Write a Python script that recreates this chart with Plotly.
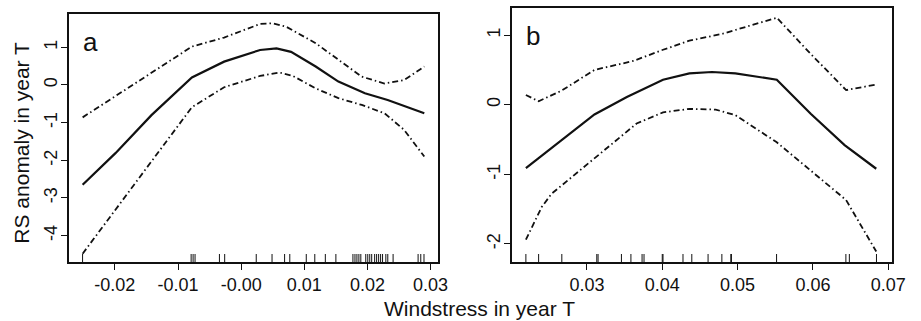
import plotly.graph_objects as go

# ---------------- data ----------------
# Panel a
a_fit_x = [-0.0251, -0.0199, -0.0142, -0.0078, -0.0027, 0.0001, 0.0030, 0.0056, 0.0079, 0.0118, 0.0154, 0.0196, 0.0232, 0.0290]
a_fit_y = [-2.65, -1.81, -0.80, 0.20, 0.62, 0.77, 0.93, 0.97, 0.88, 0.49, 0.09, -0.22, -0.40, -0.75]
a_up_x = [-0.0251, -0.0078, -0.0027, 0.0030, 0.0050, 0.0071, 0.0118, 0.0154, 0.0191, 0.0227, 0.0258, 0.0290]
a_up_y = [-0.86, 1.02, 1.26, 1.62, 1.64, 1.55, 1.11, 0.66, 0.22, 0.04, 0.13, 0.49]
a_lo_x = [-0.0251, -0.0078, -0.0027, 0.0030, 0.0061, 0.0082, 0.0118, 0.0154, 0.0191, 0.0227, 0.0258, 0.0290]
a_lo_y = [-4.48, -0.59, -0.06, 0.24, 0.33, 0.24, -0.09, -0.35, -0.53, -0.75, -1.19, -1.90]
a_rug = [-0.02511, -0.00792, -0.00761, -0.00730, -0.00344, -0.00261, 0.00239, 0.00489,
         0.00688, 0.00770, 0.01031, 0.01166, 0.01333, 0.01500, 0.01770, 0.01802, 0.01833,
         0.01864, 0.01895, 0.01973, 0.02005, 0.02036, 0.02067, 0.02114, 0.02145, 0.02177,
         0.02208, 0.02239, 0.02291, 0.02322, 0.02406, 0.02802, 0.02844, 0.02895]
a_xticks = [-0.02, -0.01, 0.0, 0.01, 0.02, 0.03]
a_xticktext = ["-0.02", "-0.01", "-0.00", "0.01", "0.02", "0.03"]
a_yticks = [-4, -3, -2, -1, 0, 1]
a_yticktext = ["-4", "-3", "-2", "-1", "0", "1"]
a_xrange = [-0.02727, 0.03116]
a_yrange = [-4.70, 1.885]

# Panel b
b_fit_x = [0.0219, 0.0266, 0.0310, 0.0353, 0.0401, 0.0436, 0.0466, 0.0497, 0.0552, 0.0597, 0.0642, 0.0684]
b_fit_y = [-0.91, -0.51, -0.14, 0.11, 0.36, 0.45, 0.47, 0.45, 0.36, -0.13, -0.58, -0.92]
b_up_x = [0.0219, 0.0236, 0.0266, 0.0310, 0.0362, 0.0401, 0.0436, 0.0480, 0.0552, 0.0597, 0.0644, 0.0684]
b_up_y = [0.14, 0.05, 0.20, 0.50, 0.63, 0.79, 0.92, 1.02, 1.25, 0.73, 0.21, 0.29]
b_lo_x = [0.0219, 0.0240, 0.0253, 0.0310, 0.0366, 0.0401, 0.0436, 0.0471, 0.0497, 0.0552, 0.0597, 0.0644, 0.0684]
b_lo_y = [-1.94, -1.47, -1.28, -0.77, -0.27, -0.11, -0.06, -0.07, -0.15, -0.54, -0.94, -1.37, -2.11]
b_rug = [0.02190, 0.02359, 0.02667, 0.03131, 0.03148, 0.03458, 0.03584, 0.03732, 0.03758,
         0.04000, 0.04010, 0.04275, 0.04392, 0.04608, 0.04791, 0.04910, 0.04918, 0.05517,
         0.06437, 0.06483, 0.06843]
b_xticks = [0.03, 0.04, 0.05, 0.06, 0.07]
b_xticktext = ["0.03", "0.04", "0.05", "0.06", "0.07"]
b_yticks = [-2, -1, 0, 1]
b_yticktext = ["-2", "-1", "0", "1"]
b_xrange = [0.02007, 0.07052]
b_yrange = [-2.26, 1.39]

x_title = "Windstress in year T"
y_title = "RS anomaly in year T"
panel_labels = ["a", "b"]

# ---------------- figure ----------------
W, H = 921, 321
FONT = "Liberation Sans, Arial, Helvetica, sans-serif"
INK = "#111111"
DASH = "6px,3px,1.5px,3px"

fig = go.Figure()

def add_panel(xa, ya, fx, fy, ux, uy, lx, ly):
    fig.add_trace(go.Scatter(x=ux, y=uy, mode="lines", xaxis=xa, yaxis=ya,
                             line=dict(color=INK, width=1.8, dash=DASH), showlegend=False))
    fig.add_trace(go.Scatter(x=lx, y=ly, mode="lines", xaxis=xa, yaxis=ya,
                             line=dict(color=INK, width=1.8, dash=DASH), showlegend=False))
    fig.add_trace(go.Scatter(x=fx, y=fy, mode="lines", xaxis=xa, yaxis=ya,
                             line=dict(color=INK, width=2.2), showlegend=False))

add_panel("x", "y", a_fit_x, a_fit_y, a_up_x, a_up_y, a_lo_x, a_lo_y)
add_panel("x2", "y2", b_fit_x, b_fit_y, b_up_x, b_up_y, b_lo_x, b_lo_y)

# rugs
shapes = []
for xv in a_rug:
    shapes.append(dict(type="line", xref="x", yref="y domain", x0=xv, x1=xv, y0=0, y1=8/248,
                       line=dict(color=INK, width=1)))
for xv in b_rug:
    shapes.append(dict(type="line", xref="x2", yref="y2 domain", x0=xv, x1=xv, y0=0, y1=8/254,
                       line=dict(color=INK, width=1)))

axis_common = dict(showgrid=False, zeroline=False, showline=True, linecolor=INK, linewidth=1.5,
                   mirror=True, ticks="outside", ticklen=6, tickwidth=1.2, tickcolor=INK,
                   tickfont=dict(family=FONT, size=18, color=INK), tickmode="array")

fig.update_layout(
    width=W, height=H, margin=dict(l=0, r=0, t=0, b=0),
    paper_bgcolor="white", plot_bgcolor="white",
    xaxis=dict(domain=[70/W, 444.7/W], range=a_xrange, tickvals=a_xticks, ticktext=a_xticktext,
               anchor="y", **axis_common),
    yaxis=dict(domain=[1-262/H, 1-14/H], range=a_yrange, tickvals=a_yticks, ticktext=a_yticktext,
               tickangle=-90, ticklabelstandoff=-3, anchor="x", **axis_common),
    xaxis2=dict(domain=[520/W, 906/W], range=b_xrange, tickvals=b_xticks, ticktext=b_xticktext,
                anchor="y2", **axis_common),
    yaxis2=dict(domain=[1-262/H, 1-8/H], range=b_yrange, tickvals=b_yticks, ticktext=b_yticktext,
                tickangle=-90, ticklabelstandoff=-3, anchor="x2", **axis_common),
    shapes=shapes,
    annotations=[
        dict(text=panel_labels[0], xref="x domain", yref="y domain", x=12/375, y=1-11/248,
             xanchor="left", yanchor="top", showarrow=False,
             font=dict(family=FONT, size=26, color=INK)),
        dict(text=panel_labels[1], xref="x2 domain", yref="y2 domain", x=12/386, y=1-11/254,
             xanchor="left", yanchor="top", showarrow=False,
             font=dict(family=FONT, size=26, color=INK)),
        dict(text=x_title, xref="paper", yref="paper", x=486.7/W, y=1-308/H,
             xanchor="center", yanchor="middle", showarrow=False,
             font=dict(family=FONT, size=21, color=INK)),
        dict(text=y_title, xref="paper", yref="paper", x=22/W, y=1-143/H, textangle=-90,
             xanchor="center", yanchor="middle", showarrow=False,
             font=dict(family=FONT, size=21, color=INK)),
    ],
)

fig.write_html("out.html")
